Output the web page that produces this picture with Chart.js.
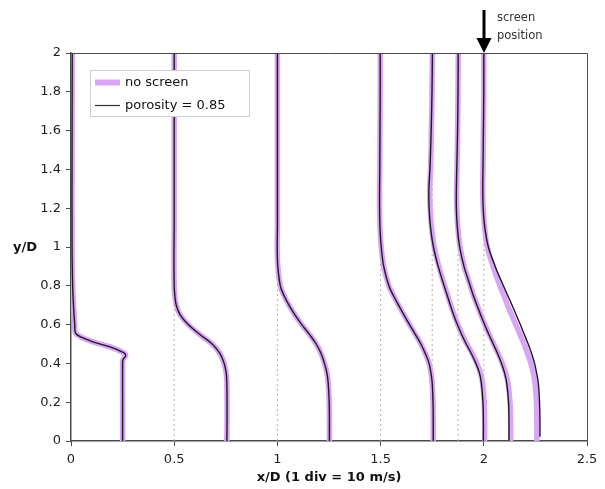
<!DOCTYPE html>
<html>
<head>
<meta charset="utf-8">
<script src="https://cdn.jsdelivr.net/npm/chart.js@4.4.0/dist/chart.umd.min.js"></script>
<style>
  html, body { margin: 0; padding: 0; background: #fff; }
</style>
</head>
<body>
<canvas id="grafico" width="605" height="489"></canvas>
<script>
// heights y/D where the profiles were read
const yLevels = [0, 0.1, 0.2, 0.3, 0.35, 0.4, 0.45, 0.5, 0.55, 0.6, 0.65, 0.7, 0.75, 0.8, 0.9, 1.0, 1.1, 1.2, 1.3, 1.4, 1.6, 1.8, 2.0]
const porosity20Y = [0.025, 0.1, 0.2, 0.3, 0.35, 0.4, 0.45, 0.5, 0.55, 0.6, 0.65, 0.7, 0.75, 0.8, 0.9, 1.0, 1.1, 1.2, 1.3, 1.4, 1.6, 1.8, 2.0]

// station x/D = 0 has its own sharper profile
const station0Y = [0, 0.2, 0.4, 0.42, 0.44, 0.455, 0.485, 0.51, 0.535, 0.556, 0.6, 0.7, 0.8, 1.0, 1.5, 2.0]
const station0X = [0.25, 0.25, 0.25, 0.252, 0.265, 0.255, 0.19, 0.11, 0.05, 0.022, 0.018, 0.012, 0.008, 0.005, 0.005, 0.006]

// no screen
const noScreen05 = [0.755, 0.756, 0.756, 0.755, 0.752, 0.742, 0.722, 0.684, 0.623, 0.568, 0.529, 0.51, 0.503, 0.5, 0.499, 0.499, 0.5, 0.5, 0.5, 0.5, 0.5, 0.5, 0.5]
const noScreen10 = [1.252, 1.252, 1.251, 1.246, 1.24, 1.228, 1.212, 1.188, 1.155, 1.118, 1.085, 1.056, 1.032, 1.014, 1.002, 0.999, 1.0, 1.0, 1.0, 1.0, 1.0, 1.0, 1.0]
const noScreen15 = [1.755, 1.755, 1.754, 1.75, 1.744, 1.735, 1.717, 1.695, 1.668, 1.64, 1.613, 1.587, 1.562, 1.54, 1.515, 1.503, 1.497, 1.495, 1.495, 1.496, 1.497, 1.498, 1.498]
const noScreen175 = [2.004, 2.004, 2.002, 1.994, 1.984, 1.966, 1.944, 1.918, 1.895, 1.874, 1.856, 1.84, 1.825, 1.81, 1.782, 1.76, 1.747, 1.74, 1.738, 1.742, 1.746, 1.749, 1.751]
const noScreen1875 = [2.13, 2.13, 2.127, 2.117, 2.106, 2.09, 2.07, 2.048, 2.026, 2.005, 1.986, 1.968, 1.95, 1.935, 1.905, 1.885, 1.874, 1.869, 1.868, 1.87, 1.873, 1.875, 1.876]
const noScreen20 = [2.257, 2.257, 2.255, 2.248, 2.24, 2.228, 2.212, 2.195, 2.175, 2.155, 2.135, 2.115, 2.097, 2.078, 2.045, 2.017, 2.004, 1.997, 1.995, 1.996, 1.998, 2.0, 2.0]

// porosity = 0.85 (first stations sit on top of the no screen ones)
const porosity175 = [1.998, 1.998, 1.996, 1.988, 1.979, 1.962, 1.94, 1.915, 1.892, 1.872, 1.854, 1.838, 1.823, 1.808, 1.779, 1.756, 1.742, 1.735, 1.734, 1.739, 1.745, 1.749, 1.751]
const porosity1875 = [2.122, 2.122, 2.12, 2.111, 2.101, 2.086, 2.067, 2.046, 2.024, 2.004, 1.985, 1.967, 1.949, 1.934, 1.904, 1.883, 1.872, 1.867, 1.867, 1.869, 1.873, 1.875, 1.876]
const porosity20 = [2.272, 2.272, 2.27, 2.264, 2.256, 2.246, 2.232, 2.215, 2.196, 2.177, 2.157, 2.137, 2.116, 2.095, 2.055, 2.022, 2.005, 1.997, 1.995, 1.996, 1.998, 2.0, 2.0]

const stations = [0.5, 1, 1.5, 1.75, 1.875, 2]
const screenX = 2
const xTicks = [0, 0.5, 1, 1.5, 2, 2.5]
const yTicks = [0, 0.2, 0.4, 0.6, 0.8, 1, 1.2, 1.4, 1.6, 1.8, 2]

const purple = '#d9a6f6'
const negro = '#1e1a22'

const puntos = (xs, ys) => xs.map((x, i) => ({ x: x, y: ys[i] }))

const perfil = (xs, ys, tipo) => ({
  label: tipo,
  data: puntos(xs, ys),
  borderColor: tipo == 'porosity' ? negro : purple,
  borderWidth: tipo == 'porosity' ? 1.4 : 5.5,
  pointRadius: 0,
  tension: 0.35,
  borderCapStyle: 'round',
  borderJoinStyle: 'round',
  fill: false
})

const porosidad = [
  perfil(station0X, station0Y, 'porosity'),
  perfil(noScreen05, yLevels, 'porosity'),
  perfil(noScreen10, yLevels, 'porosity'),
  perfil(noScreen15, yLevels, 'porosity'),
  perfil(porosity175, yLevels, 'porosity'),
  perfil(porosity1875, yLevels, 'porosity'),
  perfil(porosity20, porosity20Y, 'porosity')
]
const sinPantalla = [
  perfil(station0X, station0Y, 'noscreen'),
  perfil(noScreen05, yLevels, 'noscreen'),
  perfil(noScreen10, yLevels, 'noscreen'),
  perfil(noScreen15, yLevels, 'noscreen'),
  perfil(noScreen175, yLevels, 'noscreen'),
  perfil(noScreen1875, yLevels, 'noscreen'),
  perfil(noScreen20, yLevels, 'noscreen')
]
const guias = stations.map((s) => ({
  label: 'station',
  data: [{ x: s, y: 0 }, { x: s, y: 2 }],
  borderColor: '#b0b0b0',
  borderWidth: 1,
  borderDash: [2, 3],
  pointRadius: 0,
  fill: false
}))

const extras = {
  id: 'extras',
  afterDraw(chart) {
    const ctx = chart.ctx
    const a = chart.chartArea
    const xs = chart.scales.x
    ctx.save()
    // top and right frame
    ctx.strokeStyle = '#4a4a4a'
    ctx.lineWidth = 1
    ctx.beginPath()
    ctx.moveTo(a.left, a.top + 0.5)
    ctx.lineTo(a.right + 0.5, a.top + 0.5)
    ctx.lineTo(a.right + 0.5, a.bottom)
    ctx.stroke()

    // legend
    ctx.fillStyle = '#fff'
    ctx.fillRect(90, 70, 159, 46)
    ctx.strokeStyle = '#cfcfcf'
    ctx.strokeRect(90.5, 70.5, 159, 46)
    ctx.lineCap = 'butt'
    ctx.strokeStyle = purple
    ctx.lineWidth = 6
    ctx.beginPath(); ctx.moveTo(95, 82.5); ctx.lineTo(120, 82.5); ctx.stroke()
    ctx.strokeStyle = '#333'
    ctx.lineWidth = 1.2
    ctx.beginPath(); ctx.moveTo(95, 105.5); ctx.lineTo(120, 105.5); ctx.stroke()
    ctx.fillStyle = '#111'
    ctx.font = '13px "DejaVu Sans"'
    ctx.textBaseline = 'middle'
    ctx.textAlign = 'left'
    ctx.fillText('no screen', 125, 83)
    ctx.fillText('porosity = 0.85', 125, 106)

    // screen position arrow
    const sx = Math.round(xs.getPixelForValue(screenX))
    ctx.fillStyle = '#000'
    ctx.fillRect(sx - 1.5, 10, 3, 29)
    ctx.beginPath()
    ctx.moveTo(sx - 7.5, 38)
    ctx.lineTo(sx + 7.5, 38)
    ctx.lineTo(sx, a.top)
    ctx.closePath()
    ctx.fill()
    ctx.fillStyle = '#333'
    ctx.font = '11.5px "DejaVu Sans"'
    ctx.fillText('screen', sx + 13, 18)
    ctx.fillText('position', sx + 13, 36)

    // axis titles
    ctx.fillStyle = '#111'
    ctx.font = 'bold 13px "DejaVu Sans"'
    ctx.textAlign = 'left'
    ctx.fillText('y/D', 13, chart.scales.y.getPixelForValue(1) + 1)
    ctx.textAlign = 'center'
    ctx.fillText('x/D (1 div = 10 m/s)', (a.left + a.right) / 2, 478)
    ctx.restore()
  }
}

new Chart(document.getElementById('grafico'), {
  type: 'line',
  data: { datasets: porosidad.concat(sinPantalla, guias) },
  options: {
    responsive: false,
    animation: false,
    devicePixelRatio: 1,
    layout: { padding: { left: 0, right: 18, top: 53, bottom: 0 } },
    plugins: { legend: { display: false }, tooltip: { enabled: false } },
    scales: {
      x: {
        type: 'linear',
        min: 0,
        max: 2.5,
        afterFit: (s) => { s.height = 48 },
        afterBuildTicks: (s) => { s.ticks = xTicks.map((v) => ({ value: v })) },
        grid: { drawOnChartArea: false, color: '#4a4a4a', tickLength: 5 },
        border: { color: '#4a4a4a', width: 1.5 },
        ticks: { color: '#222', padding: 6, font: { family: 'DejaVu Sans', size: 13 }, callback: (v) => String(v) }
      },
      y: {
        type: 'linear',
        min: 0,
        max: 2,
        afterFit: (s) => { s.width = 71 },
        afterBuildTicks: (s) => { s.ticks = yTicks.map((v) => ({ value: v })) },
        grid: { drawOnChartArea: false, color: '#4a4a4a', tickLength: 5 },
        border: { color: '#4a4a4a', width: 1.5 },
        ticks: { color: '#222', padding: 5, font: { family: 'DejaVu Sans', size: 13 }, callback: (v) => String(v) }
      }
    }
  },
  plugins: [extras]
})
</script>
</body>
</html>
